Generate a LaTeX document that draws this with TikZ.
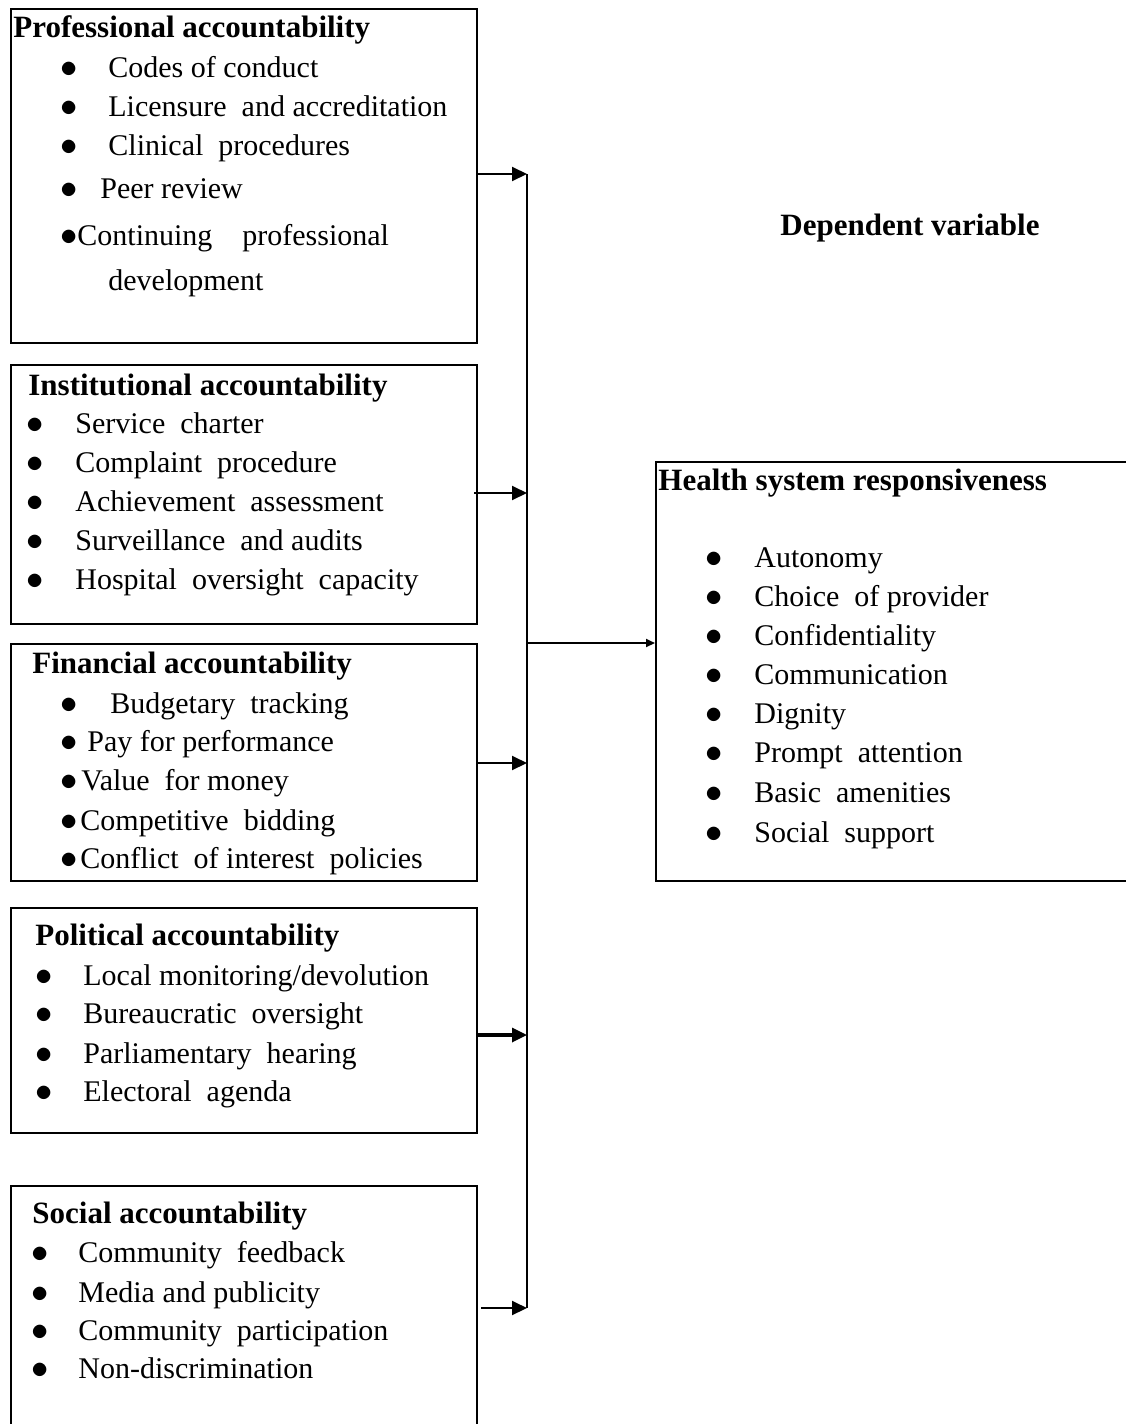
\documentclass[tikz,border=0pt]{standalone}
\usepackage{fontspec}
\setmainfont{Liberation Serif}
\usepackage{tikz}
\usetikzlibrary{arrows.meta, positioning, calc}
\newcommand{\dotmark}{{\fontsize{18}{18}\selectfont$\bullet$}}

\begin{document}
\begin{tikzpicture}[x=0.5pt, y=-0.5pt,
    box/.style={draw, line width=1pt, anchor=north west, inner sep=0pt},
    txt/.style={anchor=base west, inner sep=0pt, font=\fontsize{15}{18}\selectfont},
    ttl/.style={anchor=base west, inner sep=0pt, font=\fontsize{15.5}{18}\selectfont\bfseries},
    feed/.style={line width=1pt, -{Triangle[length=7.5pt, width=7pt]}},
    bus/.style={line width=1pt}]
  \useasboundingbox (0,0) rectangle (1125,1424);

  % independent variables
  \node[box, minimum width=233pt, minimum height=167pt] (prof) at (10,8) {};
  \node[box, minimum width=233pt, minimum height=129.5pt] (inst) at (10,364) {};
  \node[box, minimum width=233pt, minimum height=118.5pt] (fin) at (10,643) {};
  \node[box, minimum width=233pt, minimum height=112.5pt] (pol) at (10,907) {};
  \node[box, minimum width=233pt, minimum height=123pt] (soc) at (10,1185) {};

  % dependent variable
  \node[box, minimum width=238pt, minimum height=209.5pt] (resp) at (655,461) {};
  \node[ttl] (dep) at (780,235) {Dependent variable};

  % professional
  \node[ttl] (profT) at (13,38) {Professional accountability};
  \node[txt] (p1b) at (60,77) {\dotmark};  \node[txt] (p1) at (108,77) {Codes of conduct};
  \node[txt] (p2b) at (60,116) {\dotmark}; \node[txt] (p2) at (108,116) {Licensure\ \ and accreditation};
  \node[txt] (p3b) at (60,155) {\dotmark}; \node[txt] (p3) at (108,155) {Clinical\ \ procedures};
  \node[txt] (p4b) at (60,198) {\dotmark}; \node[txt] (p4) at (100,198) {Peer review};
  \node[txt] (p5b) at (60,245) {\dotmark}; \node[txt] (p5) at (77,245) {Continuing\quad professional};
  \node[txt] (p6) at (108,290) {development};

  % institutional
  \node[ttl] (instT) at (28,395) {Institutional accountability};
  \foreach \y/\t [count=\i] in {433/Service\ \ charter, 472/Complaint\ \ procedure,
      511/Achievement\ \ assessment, 550/Surveillance\ \ and audits,
      589/Hospital\ \ oversight\ \ capacity}{
    \node[txt] (i\i b) at (26,\y) {\dotmark};
    \node[txt] (i\i) at (75,\y) {\t};
  }

  % financial
  \node[ttl] (finT) at (32,673) {Financial accountability};
  \node[txt] (f1b) at (60,713) {\dotmark}; \node[txt] (f1) at (110,713) {Budgetary\ \ tracking};
  \node[txt] (f2b) at (60,751) {\dotmark}; \node[txt] (f2) at (87,751) {Pay for performance};
  \node[txt] (f3b) at (60,790) {\dotmark}; \node[txt] (f3) at (81,790) {Value\ \ for money};
  \node[txt] (f4b) at (60,830) {\dotmark}; \node[txt] (f4) at (80,830) {Competitive\ \ bidding};
  \node[txt] (f5b) at (60,868) {\dotmark}; \node[txt] (f5) at (80,868) {Conflict\ \ of interest\ \ policies};

  % political
  \node[ttl] (polT) at (35,945) {Political accountability};
  \foreach \y/\t [count=\i] in {985/{Local monitoring/devolution}, 1023/Bureaucratic\ \ oversight,
      1063/Parliamentary\ \ hearing, 1101/Electoral\ \ agenda}{
    \node[txt] (l\i b) at (35,\y) {\dotmark};
    \node[txt] (l\i) at (83,\y) {\t};
  }

  % social
  \node[ttl] (socT) at (32,1223) {Social accountability};
  \foreach \y/\t [count=\i] in {1262/Community\ \ feedback, 1302/Media and publicity,
      1340/Community\ \ participation, 1378/Non-discrimination}{
    \node[txt] (s\i b) at (31,\y) {\dotmark};
    \node[txt] (s\i) at (78,\y) {\t};
  }

  % responsiveness
  \node[ttl] (respT) at (658,490) {Health system responsiveness};
  \foreach \y/\t [count=\i] in {567/Autonomy, 606/Choice\ \ of provider, 645/Confidentiality,
      684/Communication, 723/Dignity, 762/Prompt\ \ attention, 802/Basic\ \ amenities,
      842/Social\ \ support}{
    \node[txt] (r\i b) at (705,\y) {\dotmark};
    \node[txt] (r\i) at (754,\y) {\t};
  }

  % connectors
  \coordinate (j1) at (527,174);
  \coordinate (j2) at (527,493);
  \coordinate (j3) at (527,763);
  \coordinate (j4) at (527,1035);
  \coordinate (j5) at (527,1308);
  \coordinate (jm) at (527,643);
  \draw[bus] (j1) -- (j5);
  \draw[feed] (prof.east |- j1) -- (j1);
  \draw[feed] ([xshift=-2pt]inst.east |- j2) -- (j2);
  \draw[feed] (fin.east |- j3) -- (j3);
  \draw[feed, line width=1.6pt] (pol.east |- j4) -- (j4);
  \draw[feed] ([xshift=1.5pt]soc.east |- j5) -- (j5);
  \draw[bus, -{Triangle[length=4.5pt, width=4pt]}] (jm) -- (resp.west |- jm);
\end{tikzpicture}
\end{document}
